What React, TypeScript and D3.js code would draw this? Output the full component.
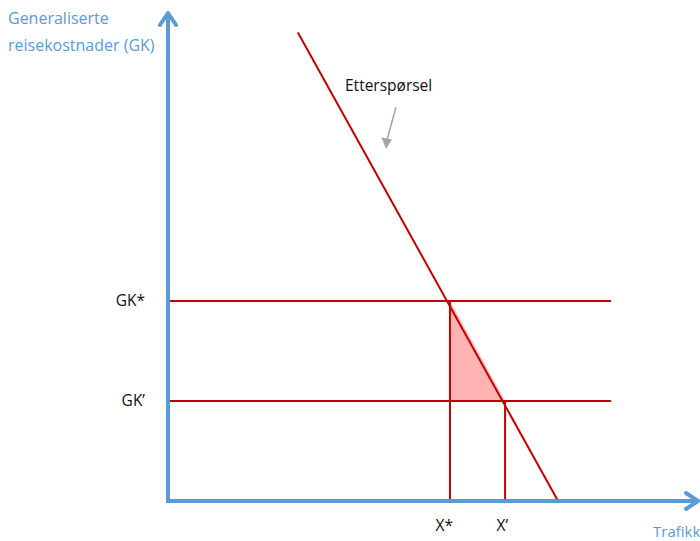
import React from 'react';
import * as d3 from 'd3';

// demand curve end points (traffic, generalised cost)
const demandQ = [24.5, 73.6];
const demandP = [96, 0];
// cost levels and the resulting traffic
const costLabels = ['GK*', 'GK\u2019'];
const costValues = [41, 20.5];
const trafficLabels = ['X*', 'X\u2019'];
const trafficValues = [53.2, 63.6];
const lineEnd = 83.6;

const W = 700;
const H = 541;
const blue = '#5b9bd5';
const red = '#c00000';

const App = () => {
  const x = d3.scaleLinear().domain([0, 100]).range([168, 698]);
  const y = d3.scaleLinear().domain([0, 100]).range([501, 13]);

  const demand = d3.line<number>()
    .x(d => x(demandQ[d]))
    .y(d => y(demandP[d]))([0, 1]);

  const tri = d3.line<[number, number]>()
    .x(d => x(d[0]))
    .y(d => y(d[1]))([
      [trafficValues[0], costValues[0]],
      [trafficValues[0], costValues[1]],
      [trafficValues[1], costValues[1]],
    ]) + 'Z';

  const x0 = x(0);
  const y0 = y(0);

  return (
    <svg width={W} height={H} style={{ position: 'absolute', left: 0, top: 0 }}
      fontFamily="'Open Sans', sans-serif">
      <rect width={W} height={H} fill="#fff" />
      <path d={tri} fill="#ffb3b3" />
      {costValues.map((c, i) => (
        <line key={'h' + i} x1={x0} x2={x(lineEnd)} y1={y(c)} y2={y(c)}
          stroke={red} strokeWidth={2} />
      ))}
      {trafficValues.map((t, i) => (
        <line key={'v' + i} x1={x(t)} x2={x(t)} y1={y(costValues[i])} y2={y0}
          stroke={red} strokeWidth={2} />
      ))}
      <path d={demand ?? ''} stroke={red} strokeWidth={2} fill="none" />

      {/* axes */}
      <line x1={x0} x2={x0} y1={y0 + 2} y2={y(100) + 4} stroke={blue} strokeWidth={4} />
      <line x1={x0 - 2} x2={x(100) - 4} y1={y0} y2={y0} stroke={blue} strokeWidth={4} />
      <path d={`M${x0 - 8},${y(100) + 12} L${x0},${y(100)} L${x0 + 8},${y(100) + 12}`}
        stroke={blue} strokeWidth={4} fill="none" strokeLinejoin="round" strokeLinecap="round" />
      <path d={`M${x(100) - 12},${y0 - 8} L${x(100)},${y0} L${x(100) - 12},${y0 + 8}`}
        stroke={blue} strokeWidth={4} fill="none" strokeLinejoin="round" strokeLinecap="round" />

      <text x={8} y={24} fontSize={16} fill={blue}>Generaliserte</text>
      <text x={8} y={51} fontSize={16} fill={blue}>reisekostnader (GK)</text>
      <text x={653} y={537} fontSize={15} fill={blue}>Trafikk</text>

      {costValues.map((c, i) => (
        <text key={'gl' + i} x={145} y={y(c) + 5} fontSize={15.5} textAnchor="end" fill="#111">
          {costLabels[i]}
        </text>
      ))}
      {trafficValues.map((t, i) => (
        <text key={'tl' + i} x={x(t) + 3} y={531} fontSize={15.5} textAnchor="end" fill="#111">
          {trafficLabels[i]}
        </text>
      ))}

      <text x={345} y={91} fontSize={15.5} fill="#111">Etterspørsel</text>
      <line x1={396} x2={387} y1={107} y2={140} stroke="#a6a6a6" strokeWidth={1.5} />
      <path d="M381.5,137.5 L386,149 L392,139.5 Z" fill="#a6a6a6" />
    </svg>
  );
};

export default App;
